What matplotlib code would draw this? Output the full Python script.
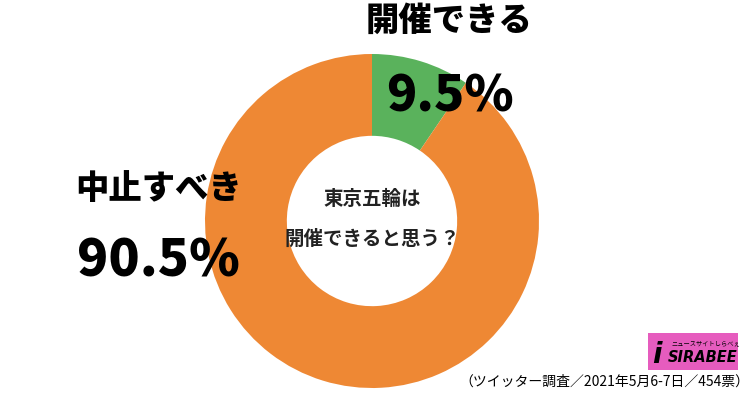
import matplotlib
matplotlib.use('Agg')
import matplotlib.pyplot as plt
from matplotlib.patches import Rectangle

plt.rcParams['font.family'] = ['Noto Sans CJK JP', 'DejaVu Sans']

labels = ['開催できる', '中止すべき']
values = [9.5, 90.5]
colors = ['#5AB25C', '#EE8834']
center_text = '東京五輪は\n開催できると思う？'
footer = '（ツイッター調査／2021年5月6-7日／454票）'

fig = plt.figure(figsize=(7.5, 3.94), dpi=100)

# donut axes: centre (372, 221) px, radius 167 px
cx, cy, r = 372, 221, 167
ax = fig.add_axes([(cx - r) / 750, (394 - cy - r) / 394, 2 * r / 750, 2 * r / 394])
ax.pie(values, colors=colors, startangle=90, counterclock=False,
       wedgeprops=dict(width=0.49, linewidth=0))
ax.set_xlim(-1, 1)
ax.set_ylim(-1, 1)
ax.set_aspect('equal')
ax.axis('off')

lines = center_text.split('\n')
ax.text(0, 0.13, lines[0], ha='center', va='center', fontsize=14, weight='bold', color='#222222')
ax.text(0, -0.11, lines[1], ha='center', va='center', fontsize=14, weight='bold', color='#222222')

# outer labels
fig.text(449 / 750, 1 - 20 / 394, labels[0], ha='center', va='center', fontsize=24, weight='heavy')
fig.text(450 / 750, 1 - 96 / 394, f'{values[0]}%', ha='center', va='center', fontsize=36, weight='heavy')
fig.text(159 / 750, 1 - 188 / 394, labels[1], ha='center', va='center', fontsize=24, weight='heavy')
fig.text(158 / 750, 1 - 261 / 394, f'{values[1]}%', ha='center', va='center', fontsize=37, weight='heavy')

# logo
fig.patches.append(Rectangle((648 / 750, 1 - 370 / 394), 90 / 750, 37 / 394,
                             transform=fig.transFigure, facecolor='#E65CBE', edgecolor='none'))
fig.text(657 / 750, 1 - 355 / 394, 'i', ha='center', va='center', fontsize=20,
         weight='bold', style='italic', family='DejaVu Sans')
fig.text(703 / 750, 1 - 358 / 394, 'SIRABEE', ha='center', va='center', fontsize=10.5,
         weight='bold', style='italic', family='DejaVu Sans')
fig.text(706 / 750, 1 - 343 / 394, 'ニュースサイトしらべぇ', ha='center', va='center', fontsize=4.5)

fig.text(749 / 750, 1 - 382 / 394, footer, ha='right', va='center', fontsize=10)

fig.savefig('out.png', dpi=100)
